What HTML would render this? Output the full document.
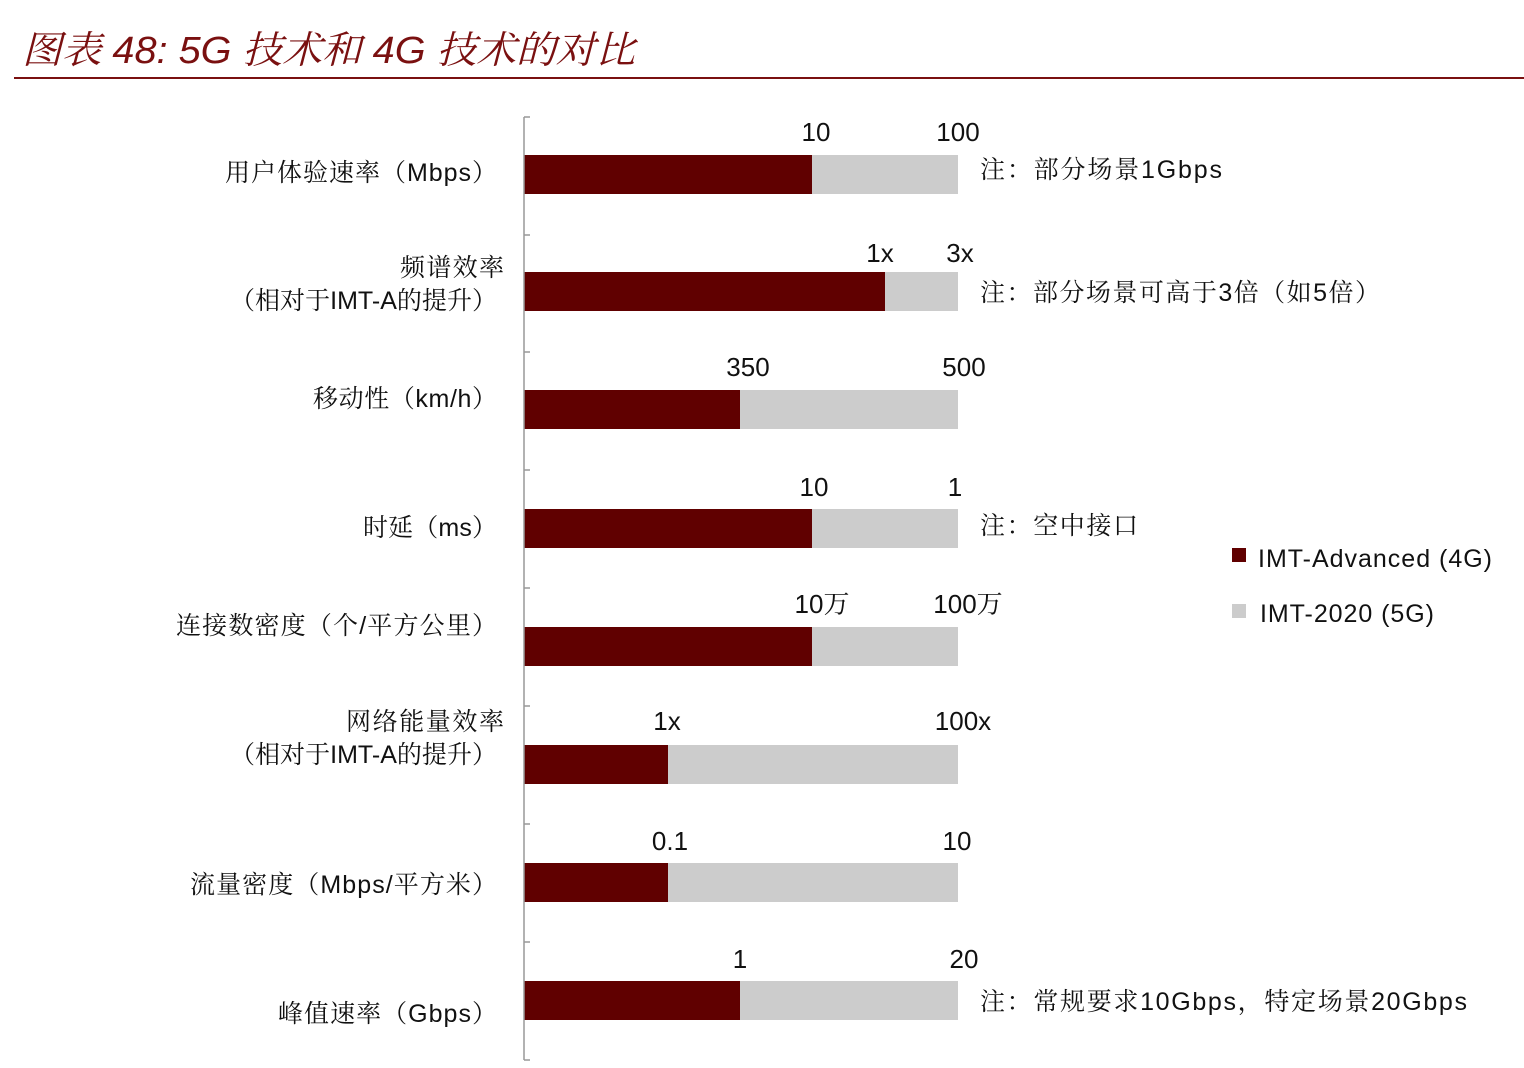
<!DOCTYPE html>
<html><head><meta charset="utf-8"><style>
body{margin:0;background:#fff;}
svg{display:block;font-family:"Liberation Sans","Noto Serif CJK SC",sans-serif;}
</style></head><body>
<svg width="1524" height="1068" viewBox="0 0 1524 1068" xmlns="http://www.w3.org/2000/svg">
<text x="22" y="63" font-size="38" font-style="italic" fill="#7a1010" textLength="613" lengthAdjust="spacingAndGlyphs">图表 48: 5G 技术和 4G 技术的对比</text>
<rect x="14" y="77" width="1510" height="2" fill="#7a1010"/>
<g fill="#cccccc">
<rect x="524" y="155" width="434" height="39"/>
<rect x="524" y="272" width="434" height="39"/>
<rect x="524" y="390" width="434" height="39"/>
<rect x="524" y="509" width="434" height="39"/>
<rect x="524" y="627" width="434" height="39"/>
<rect x="524" y="745" width="434" height="39"/>
<rect x="524" y="863" width="434" height="39"/>
<rect x="524" y="981" width="434" height="39"/>
</g>
<g fill="#600000">
<rect x="524" y="155" width="288" height="39"/>
<rect x="524" y="272" width="361" height="39"/>
<rect x="524" y="390" width="216" height="39"/>
<rect x="524" y="509" width="288" height="39"/>
<rect x="524" y="627" width="288" height="39"/>
<rect x="524" y="745" width="144" height="39"/>
<rect x="524" y="863" width="144" height="39"/>
<rect x="524" y="981" width="216" height="39"/>
</g>
<g stroke="#999" stroke-width="1.5">
<line x1="524" y1="117" x2="524" y2="1060"/>
<line x1="524" y1="117" x2="530" y2="117"/><line x1="524" y1="235" x2="530" y2="235"/>
<line x1="524" y1="352" x2="530" y2="352"/><line x1="524" y1="470" x2="530" y2="470"/>
<line x1="524" y1="588" x2="530" y2="588"/><line x1="524" y1="706" x2="530" y2="706"/>
<line x1="524" y1="824" x2="530" y2="824"/><line x1="524" y1="942" x2="530" y2="942"/>
<line x1="524" y1="1060" x2="530" y2="1060"/>
</g>
<g font-size="26" fill="#111" text-anchor="middle">
<text x="816" y="141">10</text><text x="958" y="141">100</text>
<text x="880" y="262">1x</text><text x="960" y="262">3x</text>
<text x="748" y="376">350</text><text x="964" y="376">500</text>
<text x="814" y="496">10</text><text x="955" y="496">1</text>
<text x="822" y="613">10万</text><text x="968" y="613">100万</text>
<text x="667" y="730">1x</text><text x="963" y="730">100x</text>
<text x="670" y="850">0.1</text><text x="957" y="850">10</text>
<text x="740" y="968">1</text><text x="964" y="968">20</text>
</g>
<g font-size="25" fill="#111" lengthAdjust="spacingAndGlyphs">
<text x="225" y="181" textLength="272">用户体验速率（Mbps）</text>
<text x="400" y="276" textLength="104">频谱效率</text>
<text x="230" y="309" textLength="267">（相对于IMT-A的提升）</text>
<text x="313" y="407" textLength="184">移动性（km/h）</text>
<text x="363" y="536" textLength="134">时延（ms）</text>
<text x="176" y="634" textLength="321">连接数密度（个/平方公里）</text>
<text x="346" y="730" textLength="158">网络能量效率</text>
<text x="230" y="763" textLength="267">（相对于IMT-A的提升）</text>
<text x="190" y="893" textLength="307">流量密度（Mbps/平方米）</text>
<text x="278" y="1022" textLength="219">峰值速率（Gbps）</text>
<text x="980" y="178" textLength="242">注：部分场景1Gbps</text>
<text x="980" y="301" textLength="400">注：部分场景可高于3倍（如5倍）</text>
<text x="980" y="534" textLength="158">注：空中接口</text>
<text x="980" y="1010" textLength="487">注：常规要求10Gbps，特定场景20Gbps</text>
<text x="1258" y="567" textLength="234">IMT-Advanced (4G)</text>
<text x="1260" y="622" textLength="174">IMT-2020 (5G)</text>
</g>
<rect x="1232" y="548" width="14" height="14" fill="#600000"/>
<rect x="1232" y="604" width="14" height="14" fill="#cccccc"/>
</svg>
</body></html>
